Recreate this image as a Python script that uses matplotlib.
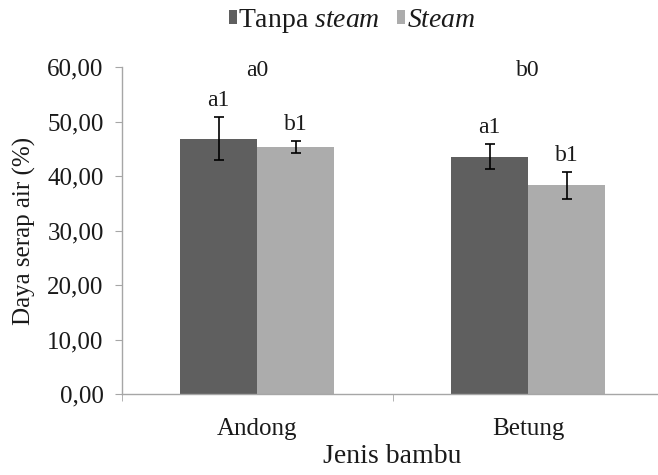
import matplotlib
matplotlib.use("Agg")
import matplotlib.pyplot as plt
import numpy as np

# water absorption (%) per bamboo type, with and without steam treatment
categories = ["Andong", "Betung"]
tanpa_steam = [46.9, 43.6]
tanpa_steam_err = [3.9, 2.3]
steam = [45.4, 38.3]
steam_err = [1.1, 2.5]
tanpa_letters = ["a1", "a1"]
steam_letters = ["b1", "b1"]
group_letters = ["a0", "b0"]
group_letter_y = 59.5
yticks = [0, 10, 20, 30, 40, 50, 60]

plt.rcParams["font.family"] = ["Liberation Serif", "DejaVu Serif"]
plt.rcParams["mathtext.fontset"] = "custom"
plt.rcParams["mathtext.rm"] = "Liberation Serif"
plt.rcParams["mathtext.it"] = "Liberation Serif:italic"

DARK = "#5f5f5f"
LIGHT = "#acacac"
AXIS = "#a6a6a6"
TEXT = "#1a1a1a"

fig = plt.figure(figsize=(6.58, 4.75), dpi=100)
ax = fig.add_axes([0.185, 0.1705, 0.8234, 0.6878])

x = np.arange(len(categories))
w = 0.284
ekw = dict(ecolor="black", elinewidth=1.2, capsize=3.6, capthick=1.2)
b1 = ax.bar(x - w / 2, tanpa_steam, w, color=DARK, yerr=tanpa_steam_err,
            error_kw=ekw, label="Tanpa $\\mathit{steam}$")
b2 = ax.bar(x + w / 2, steam, w, color=LIGHT, yerr=steam_err,
            error_kw=ekw, label="$\\mathit{Steam}$")

# significance letters above each bar and each group
for xi, v, e, t in zip(x - w / 2, tanpa_steam, tanpa_steam_err, tanpa_letters):
    ax.annotate(t, (xi, v + e), xytext=(0, 12), textcoords="offset points",
                ha="center", va="center", fontsize=17, color=TEXT)
for xi, v, e, t in zip(x + w / 2, steam, steam_err, steam_letters):
    ax.annotate(t, (xi, v + e), xytext=(0, 12), textcoords="offset points",
                ha="center", va="center", fontsize=17, color=TEXT)
for xi, t in zip(x, group_letters):
    ax.text(xi, group_letter_y, t, ha="center", va="center", fontsize=17, color=TEXT)

ax.set_xlim(-0.5, 1.5)
ax.set_ylim(0, 60)
ax.set_yticks(yticks)
ax.set_yticklabels([f"{t:.2f}".replace(".", ",") for t in yticks], fontsize=18, color=TEXT)
ax.set_xticks(x)
ax.set_xticklabels(categories, fontsize=18, color=TEXT)
ax.set_xticks([-0.5, 0.5, 1.5], minor=True)
ax.tick_params(axis="x", which="major", length=0, pad=17)
ax.tick_params(axis="x", which="minor", length=5, color=AXIS, direction="out")
ax.tick_params(axis="y", length=5, color=AXIS, direction="out", pad=8)

for s in ["top", "right"]:
    ax.spines[s].set_visible(False)
for s in ["left", "bottom"]:
    ax.spines[s].set_color(AXIS)
    ax.spines[s].set_linewidth(1.0)

ax.set_xlabel("Jenis bambu", fontsize=20, color=TEXT, labelpad=3)
ax.set_ylabel("Daya serap air (%)", fontsize=18, color=TEXT, labelpad=8)

fig.legend(handles=[b1, b2], loc="center", bbox_to_anchor=(0.535, 0.956), ncol=2,
           frameon=False, fontsize=20, handlelength=0.3, handleheight=0.45,
           handletextpad=0.05, columnspacing=0.6, labelcolor=TEXT)

fig.savefig("out.png", dpi=100)
